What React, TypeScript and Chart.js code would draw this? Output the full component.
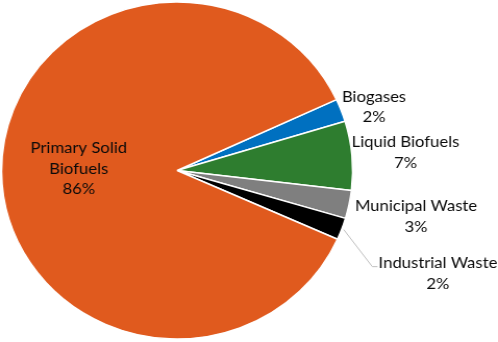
import React, { useEffect, useRef } from "react";
import { Chart, registerables } from "chart.js";

Chart.register(...registerables);

// ---- data ----
const categories = [
  "Biogases",
  "Liquid Biofuels",
  "Municipal Waste",
  "Industrial Waste",
  "Primary Solid Biofuels",
];
const shares = [2.2, 6.6, 2.7, 2.1, 86.4];
const sliceColors = ["#0070C0", "#2E7D2F", "#7F7F7F", "#000000", "#E05A1E"];

const FONT_FAMILY = "Lato, 'Open Sans', sans-serif";
const FONT_SIZE = 16;
const LINE_HEIGHT = 20.7;

// placement of each label relative to its slice (style/position, not data)
const labelPlacement = [
  { mode: "out", dx: 31.6, dy: -3.3, wrap: 220 },
  { mode: "out", dx: 51.4, dy: -3.5, wrap: 220 },
  { mode: "out", dx: 64.3, dy: 11.9, wrap: 220 },
  { mode: "out", dx: 92.3, dy: 44.1, wrap: 220, leader: true },
  { mode: "in", frac: 0.56, dx: 0, dy: -2.8, wrap: 115 },
];

function wrapWords(ctx: CanvasRenderingContext2D, text: string, maxW: number) {
  const words = text.split(" ");
  const lines: string[] = [];
  let cur = "";
  for (const w of words) {
    const t = cur ? cur + " " + w : w;
    if (cur && ctx.measureText(t).width > maxW) {
      lines.push(cur);
      cur = w;
    } else cur = t;
  }
  if (cur) lines.push(cur);
  return lines;
}

const labelPlugin = {
  id: "sliceLabels",
  afterDatasetsDraw(chart: any) {
    const ctx: CanvasRenderingContext2D = chart.ctx;
    const meta = chart.getDatasetMeta(0);
    const data: number[] = chart.data.datasets[0].data;
    const total = data.reduce((a, b) => a + b, 0);
    ctx.save();
    ctx.font = `${FONT_SIZE}px ${FONT_FAMILY}`;
    ctx.fillStyle = "#0a0a0a";
    ctx.textAlign = "center";
    ctx.textBaseline = "middle";
    meta.data.forEach((arc: any, i: number) => {
      const p = arc.getProps(["x", "y", "startAngle", "endAngle", "outerRadius"], true);
      const mid = (p.startAngle + p.endAngle) / 2;
      const pl: any = labelPlacement[i];
      const r = pl.mode === "in" ? p.outerRadius * pl.frac : p.outerRadius;
      const ox = p.x + Math.cos(mid) * r;
      const oy = p.y + Math.sin(mid) * r;
      const cx = ox + pl.dx;
      const cy = oy + pl.dy;
      const pct = Math.round((data[i] / total) * 100) + "%";
      const lines = [...wrapWords(ctx, chart.data.labels[i], pl.wrap), pct];
      const n = lines.length;
      const y0 = cy - ((n - 1) / 2) * LINE_HEIGHT;
      lines.forEach((ln, k) => ctx.fillText(ln, cx, y0 + k * LINE_HEIGHT));
      if (pl.leader) {
        const w = ctx.measureText(lines[0]).width;
        const ex = cx - w / 2 - 1;
        const ey = y0 + 4;
        const sx = p.x + Math.cos(mid) * (p.outerRadius + 2);
        const sy = p.y + Math.sin(mid) * (p.outerRadius + 2);
        ctx.strokeStyle = "#BFBFBF";
        ctx.lineWidth = 1;
        ctx.beginPath();
        ctx.moveTo(sx, sy);
        ctx.lineTo(ex - 5, ey);
        ctx.lineTo(ex, ey);
        ctx.stroke();
      }
    });
    ctx.restore();
  },
};

export default function App() {
  const ref = useRef<HTMLCanvasElement | null>(null);
  useEffect(() => {
    if (!ref.current) return;
    const chart = new Chart(ref.current, {
      type: "pie",
      data: {
        labels: categories,
        datasets: [
          {
            data: shares,
            backgroundColor: sliceColors,
            borderColor: "#FFFFFF",
            borderWidth: 1.5,
            radius: 168.5,
          } as any,
        ],
      },
      options: {
        responsive: false,
        animation: false,
        devicePixelRatio: 1,
        rotation: 65.1,
        layout: { padding: { left: 0, right: 138, top: 0, bottom: 1 } },
        plugins: {
          legend: { display: false },
          tooltip: { enabled: false },
        },
      } as any,
      plugins: [labelPlugin],
    });
    return () => chart.destroy();
  }, []);
  return (
    <div style={{ position: "fixed", left: 0, top: 0, width: 498, height: 342, background: "#fff" }}>
      <canvas ref={ref} width={478} height={342} style={{ width: "498px", height: "342px", display: "block" }} />
    </div>
  );
}
